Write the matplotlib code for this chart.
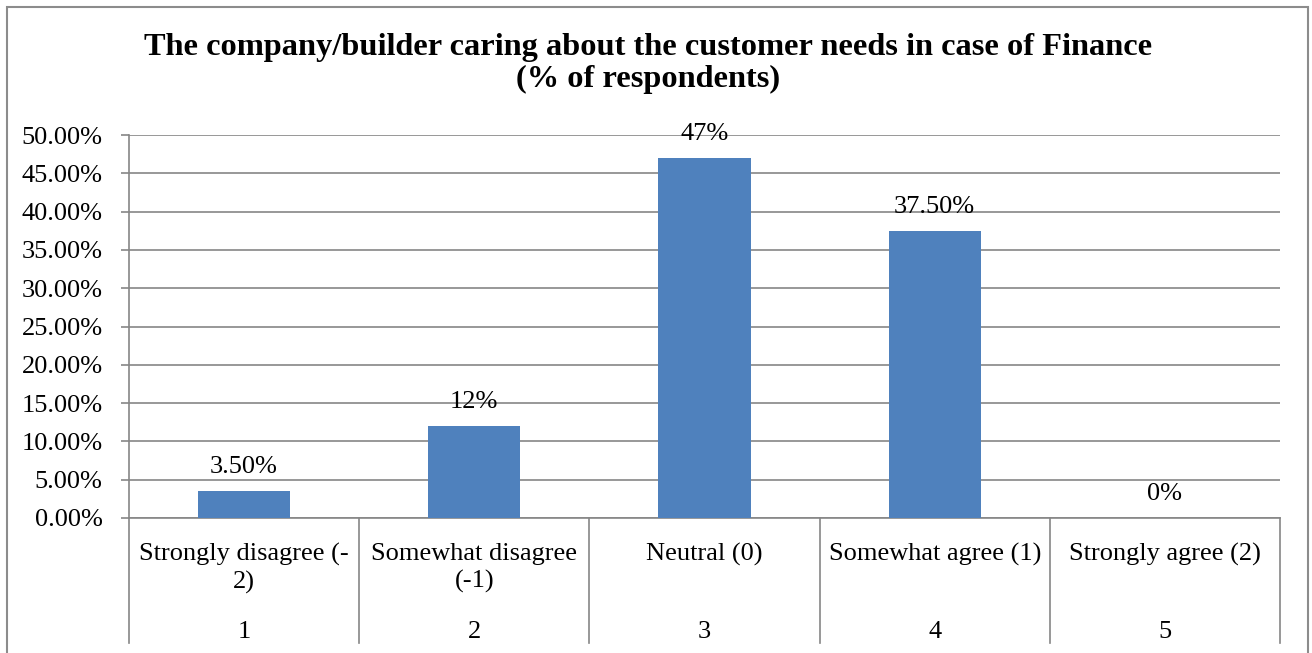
#!/usr/bin/env python3

import matplotlib
matplotlib.use("Agg")
import matplotlib.pyplot as plt
from matplotlib.patches import Rectangle
from matplotlib.ticker import FuncFormatter, MultipleLocator
import matplotlib.transforms as mtrans

categories = ["Strongly disagree (-\n2)", "Somewhat disagree\n(-1)", "Neutral (0)",
              "Somewhat agree (1)", "Strongly agree (2)"]
codes = ["1", "2", "3", "4", "5"]
shares = [3.5, 12, 47, 37.5, 0]
share_labels = ["3.50%", "12%", "47%", "37.50%", "0%"]

BAR = "#4F81BD"
GRID = "#868686"
FS = 19

plt.rcParams["font.family"] = ["Liberation Serif", "DejaVu Serif"]

fig = plt.figure(figsize=(13.12, 6.53), dpi=100)
ax = fig.add_axes([129 / 1312, 135 / 653, 1151 / 1312, 383 / 653])

x = list(range(1, len(shares) + 1))
ax.bar(x, shares, width=0.4, color=BAR, zorder=3)

for xi, v, lab in zip(x, shares, share_labels):
    ax.annotate(lab, (xi, v), xytext=(0, 13), textcoords="offset points",
                ha="center", va="baseline", fontsize=FS, zorder=4)

ax.set_xlim(0.5, len(shares) + 0.5)
ax.set_ylim(0, 50)
ax.yaxis.set_major_locator(MultipleLocator(5))
ax.yaxis.set_major_formatter(FuncFormatter(lambda v, p: f"{v:.2f}%"))
ax.grid(axis="y", color=GRID, linewidth=1.2, zorder=0)
ax.tick_params(axis="y", length=6, width=1.2, color=GRID, pad=13, labelsize=FS)
ax.tick_params(axis="x", bottom=False, labelbottom=False)
for side in ["top", "right"]:
    ax.spines[side].set_visible(False)
for side in ["left", "bottom"]:
    ax.spines[side].set_color(GRID)
    ax.spines[side].set_linewidth(1.2)

# two-level category axis below the plot
trans = mtrans.blended_transform_factory(ax.transData, ax.transAxes)
depth = -0.326
for edge in [0.5 + i for i in range(len(shares) + 1)]:
    ax.plot([edge, edge], [0, depth], transform=trans, color=GRID,
            linewidth=1.2, clip_on=False)
for xi, cat, code in zip(x, categories, codes):
    ax.text(xi, -0.065, cat, transform=trans, ha="center", va="top",
            fontsize=FS, linespacing=1.27)
    ax.text(xi, -0.313, code, transform=trans, ha="center", va="baseline",
            fontsize=FS)

fig.text(648 / 1312, 1 - 33 / 653,
         "The company/builder caring about the customer needs in case of Finance\n(% of respondents)",
         ha="center", va="top", fontsize=23.3, fontweight="bold", linespacing=1.12)

fig.patches.append(Rectangle((7 / 1312, -0.02), 1301 / 1312, 1 - 7 / 653 + 0.02,
                             transform=fig.transFigure, fill=False,
                             edgecolor="#8c8c8c", linewidth=1.5))

fig.savefig("out.png", dpi=100)
